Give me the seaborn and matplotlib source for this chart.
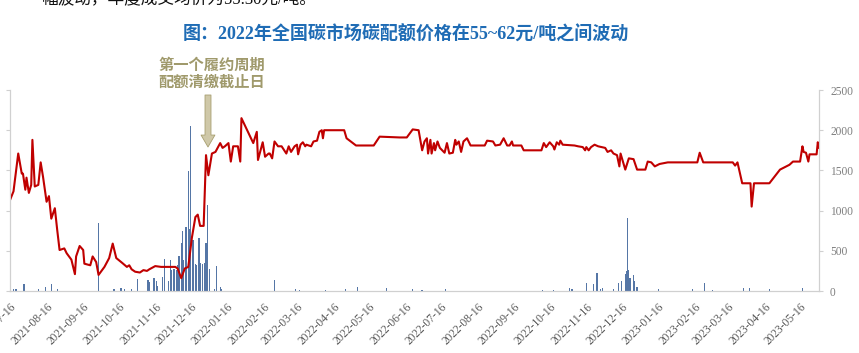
import matplotlib
matplotlib.use("Agg")
import matplotlib.pyplot as plt
import matplotlib.dates as mdates
import pandas as pd
import seaborn as sns

# carbon allowance closing price (yuan/ton), left axis
price_dates = [
    "2021-07-16", "2021-07-19", "2021-07-23", "2021-07-26", "2021-07-27", "2021-07-29",
    "2021-07-30", "2021-08-01", "2021-08-03", "2021-08-04", "2021-08-06", "2021-08-09",
    "2021-08-11", "2021-08-13", "2021-08-16", "2021-08-18", "2021-08-20", "2021-08-23",
    "2021-08-25", "2021-08-27", "2021-08-31", "2021-09-02", "2021-09-06", "2021-09-09",
    "2021-09-10", "2021-09-13", "2021-09-16", "2021-09-17", "2021-09-22", "2021-09-24",
    "2021-09-27", "2021-09-29", "2021-10-04", "2021-10-08", "2021-10-11", "2021-10-14",
    "2021-10-19", "2021-10-23", "2021-10-25", "2021-10-27", "2021-10-30", "2021-11-03",
    "2021-11-06", "2021-11-09", "2021-11-11", "2021-11-16", "2021-11-21", "2021-11-27",
    "2021-12-03", "2021-12-05", "2021-12-08", "2021-12-11", "2021-12-14", "2021-12-17",
    "2021-12-20", "2021-12-22", "2021-12-24", "2021-12-27", "2021-12-29", "2021-12-31",
    "2022-01-03", "2022-01-06", "2022-01-10", "2022-01-12", "2022-01-14", "2022-01-17",
    "2022-01-19", "2022-01-21", "2022-01-25", "2022-01-27", "2022-01-28", "2022-02-07",
    "2022-02-10", "2022-02-11", "2022-02-15", "2022-02-17", "2022-02-20", "2022-02-21",
    "2022-02-23", "2022-02-25", "2022-02-28", "2022-03-03", "2022-03-07", "2022-03-09",
    "2022-03-11", "2022-03-14", "2022-03-16", "2022-03-17", "2022-03-19", "2022-03-21",
    "2022-03-23", "2022-03-24", "2022-03-28", "2022-03-30", "2022-04-02", "2022-04-04",
    "2022-04-06", "2022-04-07", "2022-04-08", "2022-04-25", "2022-04-27", "2022-05-05",
    "2022-05-20", "2022-05-25", "2022-06-11", "2022-06-17", "2022-06-22", "2022-06-27",
    "2022-06-30", "2022-07-02", "2022-07-04", "2022-07-05", "2022-07-07", "2022-07-08",
    "2022-07-10", "2022-07-11", "2022-07-13", "2022-07-15", "2022-07-19", "2022-07-21",
    "2022-07-23", "2022-07-26", "2022-07-28", "2022-07-29", "2022-07-31", "2022-08-02",
    "2022-08-04", "2022-08-07", "2022-08-10", "2022-08-22", "2022-08-24", "2022-08-29",
    "2022-08-31", "2022-09-04", "2022-09-07", "2022-09-10", "2022-09-12", "2022-09-14",
    "2022-09-15", "2022-09-22", "2022-09-24", "2022-10-09", "2022-10-11", "2022-10-13",
    "2022-10-16", "2022-10-19", "2022-10-20", "2022-10-22", "2022-10-24", "2022-10-25",
    "2022-10-27", "2022-11-06", "2022-11-09", "2022-11-13", "2022-11-15", "2022-11-16",
    "2022-11-18", "2022-11-20", "2022-11-23", "2022-11-26", "2022-11-29", "2022-12-02",
    "2022-12-04", "2022-12-07", "2022-12-09", "2022-12-12", "2022-12-14", "2022-12-15",
    "2022-12-17", "2022-12-19", "2022-12-22", "2022-12-26", "2022-12-29", "2023-01-05",
    "2023-01-07", "2023-01-10", "2023-01-13", "2023-01-17", "2023-01-24", "2023-02-03",
    "2023-02-18", "2023-02-20", "2023-02-23", "2023-03-20", "2023-03-22", "2023-03-24",
    "2023-03-28", "2023-04-04", "2023-04-05", "2023-04-07", "2023-04-20", "2023-04-29",
    "2023-05-07", "2023-05-10", "2023-05-16", "2023-05-18", "2023-05-19", "2023-05-21",
    "2023-05-23", "2023-05-24", "2023-05-30", "2023-05-31", "2023-06-01",
]
price = [
    51.3, 52.4, 57.1, 54.6, 54.6, 52.6,
    54.1, 52.2, 53.2, 58.8, 53.0, 53.2,
    56.0, 54.2, 51.1, 51.8, 49.0, 50.3,
    47.6, 45.1, 45.3, 44.7, 43.9, 42.1,
    44.3, 45.6, 45.1, 43.4, 43.2, 44.3,
    43.6, 42.0, 43.0, 44.1, 45.9, 44.1,
    43.5, 43.0, 43.2, 42.7, 42.4, 42.3,
    42.6, 42.5, 42.7, 43.1, 43.0, 43.0,
    43.0, 42.8, 41.6, 42.8, 43.0, 46.6,
    49.2, 49.5, 48.1, 48.1, 56.9, 54.4,
    57.1, 57.3, 58.4, 57.8, 58.0, 58.4,
    56.1, 58.0, 58.0, 56.1, 61.5, 58.4,
    59.8, 56.3, 58.5, 56.7, 57.1, 57.1,
    56.5, 58.6, 58.0, 58.0, 57.1, 58.0,
    57.3, 58.0, 58.2, 57.0, 58.2, 58.5,
    58.0, 58.2, 58.0, 58.6, 58.7, 59.8,
    60.0, 59.0, 60.0, 60.0, 59.0, 58.1,
    58.1, 59.2, 59.1, 59.1, 60.1, 60.0,
    57.5, 58.6, 59.0, 57.1, 58.8, 57.1,
    58.4, 57.5, 58.6, 57.8, 57.2, 58.4,
    57.1, 57.2, 58.8, 58.2, 58.6, 57.3,
    58.6, 59.0, 58.1, 58.1, 58.7, 58.6,
    58.1, 58.2, 59.0, 58.1, 58.1, 58.6,
    58.1, 58.1, 57.5, 57.5, 58.4, 57.9,
    58.5, 58.0, 57.6, 58.5, 58.2, 58.7,
    58.2, 58.1, 58.0, 57.9, 57.5, 57.9,
    57.5, 57.9, 58.2, 58.0, 57.9, 57.8,
    57.3, 57.5, 57.1, 56.9, 55.5, 57.1,
    56.1, 55.1, 56.5, 56.4, 55.1, 55.1,
    56.1, 56.0, 55.5, 55.8, 56.0, 56.0,
    56.0, 57.2, 56.0, 56.0, 55.6, 56.0,
    53.4, 53.4, 50.5, 53.4, 53.4, 55.1,
    55.7, 56.1, 56.1, 58.0, 57.3, 57.2,
    56.1, 57.0, 57.0, 58.5, 57.8,
]

# daily trading volume, right axis
volume_dates = [
    "2021-07-16", "2021-07-19", "2021-07-21", "2021-07-28", "2021-08-09", "2021-08-15",
    "2021-08-20", "2021-08-25", "2021-09-29", "2021-10-12", "2021-10-18", "2021-10-21",
    "2021-10-27", "2021-11-01", "2021-11-10", "2021-11-11", "2021-11-15", "2021-11-17",
    "2021-11-18", "2021-11-22", "2021-11-24", "2021-11-27", "2021-11-29", "2021-11-30",
    "2021-12-02", "2021-12-04", "2021-12-05", "2021-12-06", "2021-12-08", "2021-12-09",
    "2021-12-10", "2021-12-12", "2021-12-14", "2021-12-15", "2021-12-16", "2021-12-18",
    "2021-12-20", "2021-12-21", "2021-12-23", "2021-12-24", "2021-12-26", "2021-12-28",
    "2021-12-29", "2021-12-30", "2022-01-01", "2022-01-05", "2022-01-07", "2022-01-10",
    "2022-01-11", "2022-02-25", "2022-03-15", "2022-03-18", "2022-04-09", "2022-04-26",
    "2022-05-06", "2022-05-31", "2022-06-22", "2022-06-30", "2022-07-20", "2022-10-10",
    "2022-10-19", "2022-11-02", "2022-11-04", "2022-11-16", "2022-11-22", "2022-11-25",
    "2022-11-28", "2022-11-30", "2022-12-09", "2022-12-13", "2022-12-16", "2022-12-19",
    "2022-12-20", "2022-12-21", "2022-12-22", "2022-12-23", "2022-12-26", "2022-12-27",
    "2022-12-29", "2023-01-16", "2023-02-14", "2023-02-24", "2023-03-03", "2023-03-29",
    "2023-04-03", "2023-04-20", "2023-05-18",
]
volume = [
    410, 30, 30, 90, 30, 50,
    90, 20, 850, 30, 40, 20,
    30, 150, 140, 110, 160, 130,
    60, 180, 400, 130, 380, 260,
    270, 260, 320, 430, 600, 750,
    380, 800, 1490, 770, 2050, 640,
    330, 320, 660, 350, 340, 350,
    600, 1070, 280, 20, 310, 50,
    30, 140, 20, 10, 10, 25,
    50, 40, 20, 15, 30, 10,
    10, 40, 30, 100, 90, 230,
    30, 40, 30, 100, 120, 210,
    250, 910, 260, 160, 200, 130,
    50, 20, 20, 100, 15, 40,
    40, 30, 40,
]

title = "图：2022年全国碳市场碳配额价格在55~62元/吨之间波动"
note = "第一个履约周期\n配额清缴截止日"
top_line = "幅波动，年度成交均价为55.30元/吨。"

price_df = pd.DataFrame({"date": pd.to_datetime(price_dates), "price": price})
vol_df = pd.DataFrame({"date": pd.to_datetime(volume_dates), "volume": volume})

sns.set_style("white")
plt.rcParams["font.family"] = ["Liberation Serif", "Noto Sans CJK SC", "DejaVu Sans"]

fig = plt.figure(figsize=(8.59, 3.53), dpi=100)
ax = fig.add_axes([0.0116, 0.1756, 0.9418, 0.5694])
ax2 = ax.twinx()

# bars behind, line in front
ax2.bar(vol_df["date"], vol_df["volume"], width=1.1, color="#5576a6", linewidth=0)
sns.lineplot(data=price_df, x="date", y="price", ax=ax, color="#c00000", linewidth=1.5)
ax.set_zorder(2)
ax2.set_zorder(1)
ax.patch.set_visible(False)

ax.set_xlim(pd.Timestamp("2021-07-16"), pd.Timestamp("2023-06-01"))
ax.set_ylim(40, 65)
ax.set_yticks(range(40, 66, 5))
ax.set_yticklabels([])
ax2.set_ylim(0, 2500)
ax2.set_yticks(range(0, 2501, 500))

ax.set_xlabel("")
ax.set_ylabel("")
ax2.set_ylabel("")

ax.xaxis.set_major_locator(mdates.MonthLocator(bymonthday=16))
ax.xaxis.set_major_formatter(mdates.DateFormatter("%Y-%m-%d"))
for lab in ax.get_xticklabels():
    lab.set_rotation(45)
    lab.set_ha("right")
    lab.set_rotation_mode("anchor")

spine_c = "#d0d0d0"
for a in (ax, ax2):
    a.spines["top"].set_visible(False)
    for side in ("left", "right", "bottom"):
        a.spines[side].set_color(spine_c)
ax.tick_params(axis="x", length=3, color=spine_c, labelsize=8.3, labelcolor="#595959", pad=4)
ax.tick_params(axis="y", length=3, color=spine_c, left=True)
ax2.tick_params(axis="y", length=3, color=spine_c, right=True, labelsize=8.3,
                labelcolor="#7f7f7f", pad=5)

fig.text(406 / 859, 1 - 34 / 353, title, ha="center", va="center", fontsize=13,
         fontweight="bold", color="#1f6cb5")
fig.text(212 / 859, 1 - 74 / 353, note, ha="center", va="center", fontsize=11,
         fontweight="bold", color="#a09a6c", linespacing=1.25)
fig.text(42 / 859, 1.0, top_line, ha="left", va="center", fontsize=12, color="#111111")

ax.annotate("", xy=(208, 353 - 147), xycoords="figure pixels",
            xytext=(208, 353 - 95), textcoords="figure pixels",
            arrowprops=dict(arrowstyle="simple,head_length=0.86,head_width=1.0,tail_width=0.43",
                            fc="#cfc8a8", ec="#a89f70", lw=0.6, mutation_scale=10,
                            shrinkA=0, shrinkB=0))

plt.savefig("out.png", dpi=100)
plt.close()
